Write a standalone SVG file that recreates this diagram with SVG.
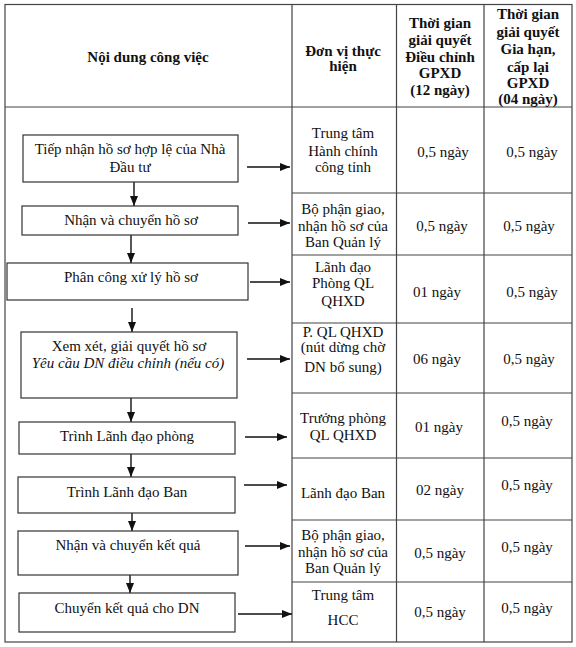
<svg xmlns="http://www.w3.org/2000/svg" width="576" height="647" viewBox="0 0 576 647">
<style>
text{font-family:"Liberation Serif","Times New Roman",serif;font-size:15px;fill:#111;text-anchor:middle}
.b{font-weight:bold}
.i{font-style:italic}
.grid{stroke:#444;stroke-width:1.2;fill:none}
.box{fill:#fff;stroke:#333;stroke-width:1.2}
.arr{stroke:#111;stroke-width:1.4;fill:none;marker-end:url(#ah)}
</style>
<defs>
<marker id="ah" viewBox="0 0 10 8" refX="10" refY="4" markerWidth="10" markerHeight="8" markerUnits="userSpaceOnUse" orient="auto">
<path d="M0,0 L10,4 L0,8 z" fill="#111"/>
</marker>
</defs>
<rect width="576" height="647" fill="#fff"/>
<g id="table">
<rect class="grid" x="5" y="4.5" width="567" height="637.5"/>
<line class="grid" x1="5" y1="107" x2="572" y2="107"/>
<line class="grid" x1="292" y1="4.5" x2="292" y2="642"/>
<line class="grid" x1="396.5" y1="4.5" x2="396.5" y2="642"/>
<line class="grid" x1="484" y1="4.5" x2="484" y2="642"/>
<line class="grid" x1="292" y1="193" x2="572" y2="193"/>
<line class="grid" x1="292" y1="255" x2="572" y2="255"/>
<line class="grid" x1="292" y1="323" x2="572" y2="323"/>
<line class="grid" x1="292" y1="393" x2="572" y2="393"/>
<line class="grid" x1="292" y1="458" x2="572" y2="458"/>
<line class="grid" x1="292" y1="520" x2="572" y2="520"/>
<line class="grid" x1="292" y1="582" x2="572" y2="582"/>
</g>
<g id="header">
<text class="b" x="148" y="62">Nội dung công việc</text>
<text class="b" x="343" y="56">Đơn vị thực</text>
<text class="b" x="343" y="71">hiện</text>
<text class="b" x="440" y="28">Thời gian</text>
<text class="b" x="440" y="45">giải quyết</text>
<text class="b" x="440" y="62">Điều chỉnh</text>
<text class="b" x="440" y="78">GPXD</text>
<text class="b" x="440" y="95">(12 ngày)</text>
<text class="b" x="528" y="19">Thời gian</text>
<text class="b" x="528" y="37">giải quyết</text>
<text class="b" x="528" y="54">Gia hạn,</text>
<text class="b" x="528" y="72">cấp lại</text>
<text class="b" x="528" y="88">GPXD</text>
<text class="b" x="528" y="104">(04 ngày)</text>
</g>
<g id="connectors">
<line class="arr" x1="134" y1="182" x2="134" y2="206"/>
<line class="arr" x1="131" y1="235" x2="131" y2="263"/>
<line class="arr" x1="132" y1="308" x2="132" y2="332"/>
<line class="arr" x1="131" y1="398" x2="131" y2="422"/>
<line class="arr" x1="131" y1="454" x2="131" y2="477"/>
<line class="arr" x1="132" y1="513" x2="132" y2="531"/>
<line class="arr" x1="130" y1="575" x2="130" y2="593"/>
<line class="arr" x1="247" y1="167" x2="290" y2="167"/>
<line class="arr" x1="248" y1="223" x2="290" y2="223"/>
<line class="arr" x1="250" y1="282" x2="290" y2="282"/>
<line class="arr" x1="247" y1="359" x2="290" y2="359"/>
<line class="arr" x1="245" y1="437" x2="287" y2="437"/>
<line class="arr" x1="244" y1="485" x2="287" y2="485"/>
<line class="arr" x1="245" y1="546" x2="290" y2="546"/>
<line class="arr" x1="238" y1="614" x2="292" y2="614"/>
</g>
<g id="step1">
<rect class="box" x="23" y="135" width="215" height="47"/>
<text x="130" y="154">Tiếp nhận hồ sơ hợp lệ của Nhà</text>
<text x="130" y="172">Đầu tư</text>
<text x="343" y="138">Trung tâm</text>
<text x="343" y="156">Hành chính</text>
<text x="343" y="172">công tỉnh</text>
<text x="443" y="157">0,5 ngày</text>
<text x="532" y="157">0,5 ngày</text>
</g>
<g id="step2">
<rect class="box" x="22" y="206" width="216" height="29"/>
<text x="131" y="225">Nhận và chuyển hồ sơ</text>
<text x="343" y="214">Bộ phận giao,</text>
<text x="343" y="231">nhận hồ sơ của</text>
<text x="343" y="247">Ban Quản lý</text>
<text x="442" y="231">0,5 ngày</text>
<text x="529" y="231">0,5 ngày</text>
</g>
<g id="step3">
<rect class="box" x="7" y="263" width="241" height="37"/>
<text x="131" y="282">Phân công xử lý hồ sơ</text>
<text x="343" y="272">Lãnh đạo</text>
<text x="343" y="288">Phòng QL</text>
<text x="343" y="306">QHXD</text>
<text x="437" y="297">01 ngày</text>
<text x="532" y="297">0,5 ngày</text>
</g>
<g id="step4">
<rect class="box" x="21" y="332" width="216" height="66"/>
<text x="129" y="351">Xem xét, giải quyết hồ sơ</text>
<text class="i" x="128" y="368">Yêu cầu DN điều chỉnh (nếu có)</text>
<text x="343" y="337">P. QL QHXD</text>
<text x="343" y="352">(nút dừng chờ</text>
<text x="343" y="372">DN bổ sung)</text>
<text x="437" y="364">06 ngày</text>
<text x="529" y="364">0,5 ngày</text>
</g>
<g id="step5">
<rect class="box" x="19" y="422" width="216" height="32"/>
<text x="127" y="441">Trình Lãnh đạo phòng</text>
<text x="343" y="423">Trưởng phòng</text>
<text x="343" y="440">QL QHXD</text>
<text x="439" y="432">01 ngày</text>
<text x="527" y="426">0,5 ngày</text>
</g>
<g id="step6">
<rect class="box" x="18" y="477" width="217" height="36"/>
<text x="127" y="497">Trình Lãnh đạo Ban</text>
<text x="343" y="498">Lãnh đạo Ban</text>
<text x="440" y="495">02 ngày</text>
<text x="527" y="490">0,5 ngày</text>
</g>
<g id="step7">
<rect class="box" x="18" y="531" width="220" height="44"/>
<text x="128" y="550">Nhận và chuyển kết quả</text>
<text x="343" y="540">Bộ phận giao,</text>
<text x="343" y="557">nhận hồ sơ của</text>
<text x="343" y="573">Ban Quản lý</text>
<text x="440" y="558">0,5 ngày</text>
<text x="527" y="552">0,5 ngày</text>
</g>
<g id="step8">
<rect class="box" x="19" y="593" width="216" height="39"/>
<text x="127" y="613">Chuyển kết quả cho DN</text>
<text x="343" y="600">Trung tâm</text>
<text x="343" y="625">HCC</text>
<text x="440" y="617">0,5 ngày</text>
<text x="527" y="613">0,5 ngày</text>
</g>
</svg>
